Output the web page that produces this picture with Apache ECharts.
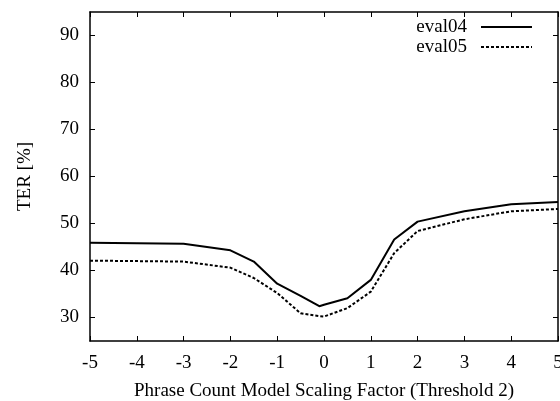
<!DOCTYPE html>
<html>
<head>
<meta charset="utf-8">
<script src="https://cdn.jsdelivr.net/npm/echarts@6/dist/echarts.min.js"></script>
<style>
  html, body { margin: 0; padding: 0; background: #fff; }
  #main { width: 560px; height: 401px; }
</style>
</head>
<body>
<div id="main"></div>
<script>
// scaling factor on x
const factors = [-5, -4, -3, -2, -1.5, -1, -0.5, -0.1, 0, 0.5, 1, 1.5, 2, 3, 4, 5];
// TER values
const eval04 = [45.9, 45.8, 45.7, 44.3, 41.9, 37.2, 34.6, 32.4, 32.7, 34.1, 38.0, 46.6, 50.4, 52.6, 54.1, 54.6];
const eval05 = [42.1, 42.0, 41.9, 40.6, 38.4, 35.2, 30.9, 30.3, 30.2, 32.0, 35.5, 43.7, 48.4, 50.9, 52.6, 53.1];
const yTicks = [30, 40, 50, 60, 70, 80, 90];

const font = 'Liberation Serif';
const fs = 19;
const myChart = echarts.init(document.getElementById('main'));

const tickStyle = { show: true, inside: true, length: 5, lineStyle: { color: '#000', width: 1 } };
const frameLine = { show: true, onZero: false, lineStyle: { color: '#000', width: 1.5 } };

myChart.setOption({
    animation: false,
    textStyle: { fontFamily: font, color: '#000' },
    grid: { left: 90, right: 2, top: 12, bottom: 60, outerBoundsMode: 'none', containLabel: false },
    legend: {
        right: 27,
        top: 17,
        padding: 0,
        orient: 'vertical',
        align: 'right',
        itemWidth: 51,
        itemHeight: 10,
        itemGap: 0,
        itemStyle: { opacity: 0 },
        textStyle: { fontFamily: font, fontSize: fs, lineHeight: 20, color: '#000', padding: [0, 9, 0, 0] },
        data: ['eval04', 'eval05']
    },
    xAxis: [{
        type: 'value',
        min: -5,
        max: 5,
        interval: 1,
        name: 'Phrase Count Model Scaling Factor (Threshold 2)',
        nameLocation: 'middle',
        nameGap: 41,
        nameTextStyle: { fontFamily: font, fontSize: fs, color: '#000' },
        axisLine: frameLine,
        axisTick: tickStyle,
        axisLabel: { fontFamily: font, fontSize: fs, color: '#000', margin: 13 },
        splitLine: { show: false }
    }, {
        type: 'value',
        position: 'top',
        min: -5,
        max: 5,
        interval: 1,
        axisLine: frameLine,
        axisTick: tickStyle,
        axisLabel: { show: false },
        splitLine: { show: false }
    }],
    yAxis: [{
        type: 'value',
        min: 25,
        max: 95,
        name: 'TER [%]',
        nameLocation: 'middle',
        nameGap: 55,
        nameTextStyle: { fontFamily: font, fontSize: fs, color: '#000' },
        axisLine: frameLine,
        axisTick: Object.assign({ customValues: yTicks }, tickStyle),
        axisLabel: { customValues: yTicks, fontFamily: font, fontSize: fs, color: '#000', margin: 11 },
        splitLine: { show: false }
    }, {
        type: 'value',
        position: 'right',
        min: 25,
        max: 95,
        axisLine: frameLine,
        axisTick: Object.assign({ customValues: yTicks }, tickStyle),
        axisLabel: { show: false },
        splitLine: { show: false }
    }],
    series: [{
        name: 'eval04',
        type: 'line',
        symbol: 'none',
        data: factors.map((x, i) => [x, eval04[i]]),
        lineStyle: { color: '#000', width: 2 },
        itemStyle: { color: '#000' }
    }, {
        name: 'eval05',
        type: 'line',
        symbol: 'none',
        data: factors.map((x, i) => [x, eval05[i]]),
        lineStyle: { color: '#000', width: 2, type: [3, 2] },
        itemStyle: { color: '#000' }
    }]
});
</script>
</body>
</html>
